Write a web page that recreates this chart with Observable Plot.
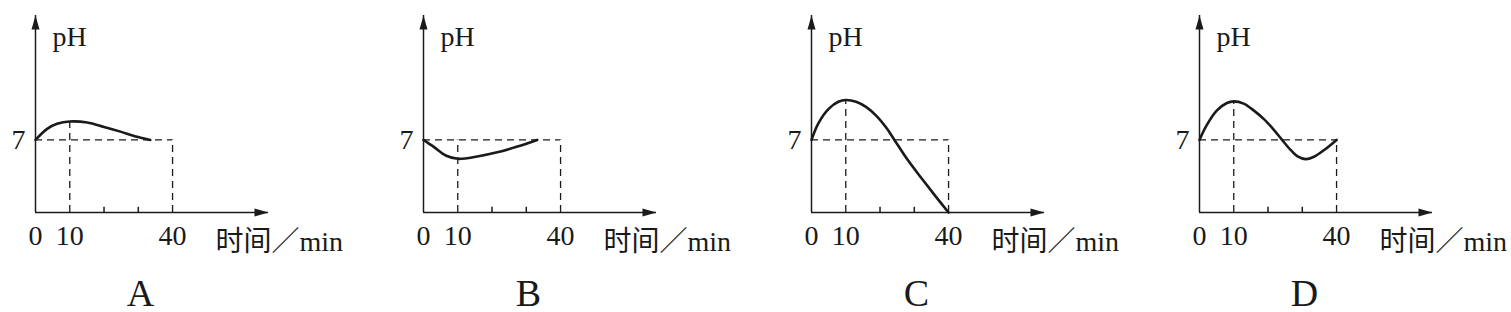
<!DOCTYPE html>
<html>
<head>
<meta charset="utf-8">
<script src="https://cdn.jsdelivr.net/npm/d3@7"></script>
<script src="https://cdn.jsdelivr.net/npm/@observablehq/plot@0.6"></script>
<style>
  html, body { margin: 0; padding: 0; background: #fff; overflow: hidden; }
  #wrap { display: flex; width: 1511px; height: 312px; overflow: hidden; }
  #wrap > * { flex: 0 0 auto; }
</style>
</head>
<body>
<div id="wrap"></div>
<script>
// ---- data ----
const panels = ["A", "B", "C", "D"];
const timeA = [0, 3.4, 6.3, 10, 15.1, 20, 24.8, 29.7, 33.5];
const phA   = [7, 8.07, 8.55, 8.78, 8.68, 8.25, 7.8, 7.3, 7];
const timeB = [0, 3.1, 6.5, 10, 15.7, 21.5, 27.4, 33.2];
const phB   = [7, 6.3, 5.5, 5.18, 5.4, 5.8, 6.36, 7];
const timeC = [0, 2, 5, 8, 10, 13, 16, 19, 22, 24.2, 28, 32, 36, 40];
const phC   = [7, 8.6, 10.0, 10.7, 10.85, 10.68, 10.16, 9.3, 8.1, 7.0, 5.1, 3.35, 1.65, 0];
const timeD = [0, 2.15, 5.1, 8, 10, 12.9, 15.8, 18.8, 21.7, 24.1, 26.6, 28.5, 31, 33.4, 36.4, 40];
const phD   = [7, 8.45, 9.85, 10.56, 10.72, 10.5, 9.85, 9.0, 7.97, 7.0, 6.03, 5.44, 5.15, 5.38, 6.03, 7];
const guide10Top = [8.78, 7, 10.85, 10.72];   // top of the dashed guide at t = 10
const xTickValues = [0, 10, 40];
const yTickValues = [7];
const minorTicks = [20, 30];
const refPH = 7;
const refTime = 40;
const markTime = 10;
const xAxisEnd = 68;   // extent of the drawn time axis
const yAxisEnd = 19;   // extent of the drawn pH axis
const yLabel = "pH";
const xLabel = "时间／min";

const series = [[timeA, phA], [timeB, phB], [timeC, phC], [timeD, phD]];

// filled arrowheads as custom symbols (tip at the anchor point)
const arrowUp = { draw(ctx) { ctx.moveTo(0, 0); ctx.lineTo(-4, 14); ctx.lineTo(4, 14); ctx.closePath(); } };
const arrowRight = { draw(ctx) { ctx.moveTo(0, 0); ctx.lineTo(-14, -4); ctx.lineTo(-14, 4); ctx.closePath(); } };

const font = "'Liberation Serif', 'Times New Roman', 'Noto Sans CJK SC', serif";
const ink = "#1a1a1a";
const wrap = document.getElementById("wrap");

panels.forEach((name, i) => {
  const [t, ph] = series[i];
  const curve = t.map((d, j) => ({ t: d, ph: ph[j] }));
  const chart = Plot.plot({
    width: 388,
    height: 312,
    marginLeft: 35,
    marginRight: 120,
    marginTop: 15,
    marginBottom: 100,
    style: { fontFamily: font, fontSize: "28px", color: ink, background: "#fff", overflow: "visible" },
    x: { domain: [0, xAxisEnd], ticks: xTickValues, tickSize: 0, tickPadding: 13, label: null, tickFormat: d => String(d) },
    y: { domain: [0, yAxisEnd], ticks: yTickValues, tickSize: 0, tickPadding: 10, label: null, tickFormat: d => String(d) },
    marks: [
      // dashed guides
      Plot.ruleY([refPH], { x1: 0, x2: refTime, stroke: ink, strokeWidth: 1.3, strokeDasharray: "7,5" }),
      Plot.ruleX([markTime], { y1: 0, y2: guide10Top[i], stroke: ink, strokeWidth: 1.3, strokeDasharray: "7,5" }),
      Plot.ruleX([refTime], { y1: 0, y2: refPH, stroke: ink, strokeWidth: 1.3, strokeDasharray: "7,5" }),
      // axes
      Plot.ruleX([0], { stroke: ink, strokeWidth: 1.5 }),
      Plot.ruleY([0], { stroke: ink, strokeWidth: 1.5 }),
      Plot.ruleX(minorTicks, { y1: 0, y2: 0.5, stroke: ink, strokeWidth: 1.5 }),
      Plot.dot([{ x: 0, y: yAxisEnd }], { x: "x", y: "y", symbol: arrowUp, fill: ink, stroke: "none", r: 4 }),
      Plot.dot([{ x: xAxisEnd, y: 0 }], { x: "x", y: "y", symbol: arrowRight, fill: ink, stroke: "none", r: 4 }),
      // pH curve
      Plot.line(curve, { x: "t", y: "ph", curve: "catmull-rom", stroke: ink, strokeWidth: 2.6 }),
      // labels
      Plot.text([yLabel], { frameAnchor: "top-left", dx: 17, dy: 30, text: d => d, textAnchor: "start", lineAnchor: "bottom", fontSize: 28, fill: ink }),
      Plot.text([xLabel], { frameAnchor: "bottom-right", dx: -53, dy: 38, text: d => d, textAnchor: "start", lineAnchor: "bottom", fontSize: 28, fill: ink }),
      Plot.text([name], { frameAnchor: "bottom-left", dx: 105, dy: 93, text: d => d, textAnchor: "middle", lineAnchor: "bottom", fontSize: 38, fill: ink })
    ]
  });
  wrap.appendChild(chart);
});
</script>
</body>
</html>
